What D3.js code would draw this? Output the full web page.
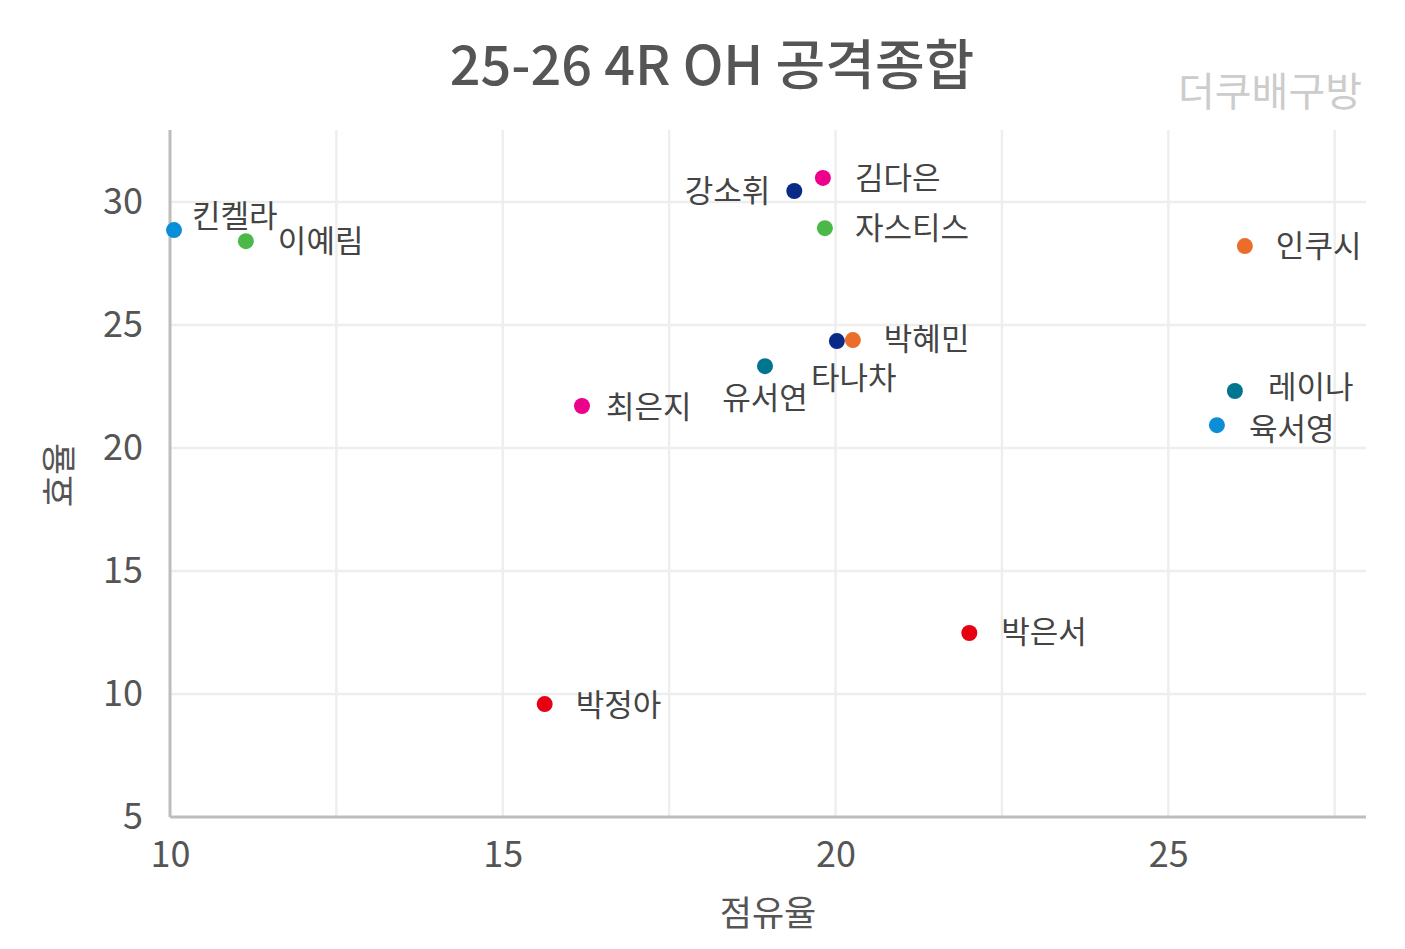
<!DOCTYPE html>
<html>
<head>
<meta charset="utf-8">
<script src="https://cdn.jsdelivr.net/npm/d3@7"></script>
<style>
  body { margin: 0; background: #fff; }
  svg { font-family: "Noto Sans CJK KR", "Noto Sans", sans-serif; }
</style>
</head>
<body>
<svg id="canvas" width="1405" height="949"></svg>
<script>
// Data
let names = ['킨켈라', '이예림', '강소휘', '김다은', '자스티스', '인쿠시', '박혜민', '타나차', '유서연', '최은지', '레이나', '육서영', '박은서', '박정아'];
let share = [10.06, 11.14, 19.38, 19.81, 19.84, 26.15, 20.26, 20.02, 18.94, 16.19, 26.0, 25.73, 22.01, 15.63];
let efficiency = [28.86, 28.41, 30.45, 30.98, 28.94, 28.21, 24.39, 24.35, 23.33, 21.71, 22.32, 20.93, 12.48, 9.59];
let xTicks = [10, 15, 20, 25];
let xGrid = [12.5, 15, 17.5, 20, 22.5, 25, 27.5];
let yTicks = [5, 10, 15, 20, 25, 30];

// Styling per point
let colors = ['#0b8ed8', '#4cb848', '#0a2a88', '#ec008c', '#4cb848', '#ec6d2a', '#ec6d2a', '#0a2a88', '#007590', '#ec008c', '#007590', '#0b8ed8', '#e60012', '#e60012'];
// label placement: [dx, dy, anchor]
let labelPlace = [
    [18, -14, 'start'], [32, 0, 'start'], [-24, 0, 'end'], [32, 0, 'start'],
    [30, 0, 'start'], [31, 0, 'start'], [31, -1, 'start'], [-26, 37, 'start'],
    [0, 32, 'middle'], [24, 1, 'start'], [33, -4, 'start'], [32, 4, 'start'],
    [32, -1, 'start'], [31, 1, 'start']
];

let canvas = d3.select('#canvas');
let plotLeft = 170, plotRight = 1366, plotTop = 130, plotBottom = 817;

let xScale = d3.scaleLinear().domain([10, 27.97]).range([plotLeft, plotRight]);
let yScale = d3.scaleLinear().domain([5, 32.93]).range([plotBottom, plotTop]);

// Grid
canvas.append('g')
    .selectAll('line')
    .data(xGrid)
    .enter()
    .append('line')
    .attr('x1', (d) => xScale(d))
    .attr('x2', (d) => xScale(d))
    .attr('y1', plotTop)
    .attr('y2', plotBottom)
    .attr('stroke', '#eeeeee')
    .attr('stroke-width', 2.5);

canvas.append('g')
    .selectAll('line')
    .data(yTicks.filter((d) => d > 5))
    .enter()
    .append('line')
    .attr('x1', plotLeft)
    .attr('x2', plotRight)
    .attr('y1', (d) => yScale(d))
    .attr('y2', (d) => yScale(d))
    .attr('stroke', '#eeeeee')
    .attr('stroke-width', 2.5);

// Axes
let xAxis = d3.axisBottom(xScale).tickValues(xTicks).tickSize(0).tickPadding(24);
let yAxis = d3.axisLeft(yScale).tickValues(yTicks).tickSize(0).tickPadding(27);

let gx = canvas.append('g').attr('transform', 'translate(0,' + plotBottom + ')').call(xAxis);
let gy = canvas.append('g').attr('transform', 'translate(' + plotLeft + ',0)').call(yAxis);

[gx, gy].forEach((g) => {
    g.select('.domain').attr('stroke', '#bdbdbd').attr('stroke-width', 3);
    g.selectAll('text')
        .attr('fill', '#555')
        .style('font-family', '"Noto Sans CJK KR", sans-serif')
        .style('font-size', '36px');
});
gx.select('.domain').attr('d', 'M' + plotLeft + ',0H' + plotRight);
gy.select('.domain').attr('d', 'M0,' + plotBottom + 'V' + plotTop);

// Points
canvas.append('g')
    .selectAll('circle')
    .data(names)
    .enter()
    .append('circle')
    .attr('cx', (d, i) => xScale(share[i]))
    .attr('cy', (d, i) => yScale(efficiency[i]))
    .attr('r', 8)
    .attr('fill', (d, i) => colors[i]);

// Labels
canvas.append('g')
    .selectAll('text')
    .data(names)
    .enter()
    .append('text')
    .attr('x', (d, i) => xScale(share[i]) + labelPlace[i][0])
    .attr('y', (d, i) => yScale(efficiency[i]) + labelPlace[i][1])
    .attr('dy', '0.35em')
    .attr('text-anchor', (d, i) => labelPlace[i][2])
    .attr('fill', '#444')
    .style('font-size', '31px')
    .text((d) => d);

// Title and captions
canvas.append('text')
    .attr('x', 712)
    .attr('y', 85)
    .attr('text-anchor', 'middle')
    .attr('fill', '#555')
    .style('font-size', '54px')
    .style('font-weight', '500')
    .text('25-26 4R OH 공격종합');

canvas.append('text')
    .attr('x', 1362)
    .attr('y', 106)
    .attr('text-anchor', 'end')
    .attr('fill', '#cccccc')
    .style('font-size', '40px')
    .text('더쿠배구방');

canvas.append('text')
    .attr('x', (plotLeft + plotRight) / 2)
    .attr('y', 926)
    .attr('text-anchor', 'middle')
    .attr('fill', '#555')
    .style('font-size', '35px')
    .text('점유율');

canvas.append('text')
    .attr('transform', 'translate(72,' + 475 + ') rotate(-90)')
    .attr('text-anchor', 'middle')
    .attr('fill', '#555')
    .style('font-size', '35px')
    .text('효율');
</script>
</body>
</html>
